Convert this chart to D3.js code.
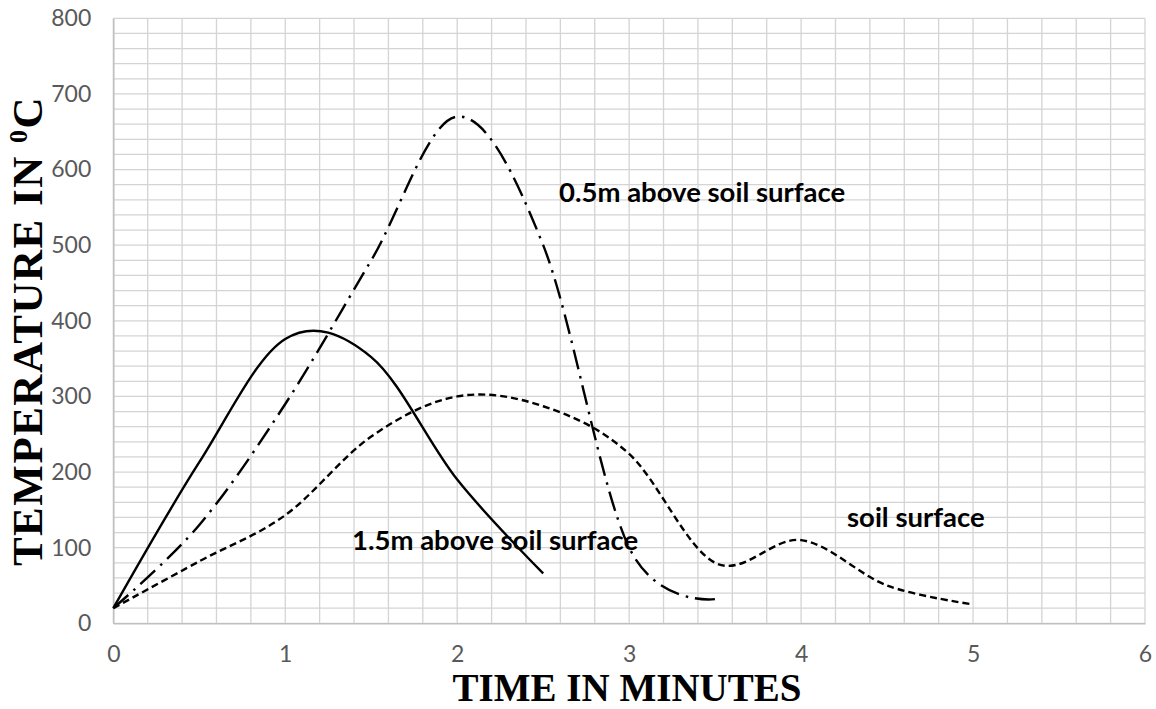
<!DOCTYPE html>
<html>
<head>
<meta charset="utf-8">
<script src="https://cdn.jsdelivr.net/npm/d3@7"></script>
<style>
  body { margin: 0; background: #fff; }
  svg { display: block; }
</style>
</head>
<body>
<svg id="chart" width="1156" height="709"></svg>
<script>
// Axis ticks
const xTickValues = [0, 1, 2, 3, 4, 5, 6];
const yTickValues = [0, 100, 200, 300, 400, 500, 600, 700, 800];

// Time (minutes) for each series
const soilTime = [0, 0.5, 1, 1.5, 2, 2.5, 3, 3.5, 4, 4.5, 5];
const above05Time = [0, 0.5, 1, 1.5, 2, 2.5, 3, 3.5];
const above15Time = [0, 0.5, 1, 1.5, 2, 2.5];

// Temperature (°C)
const soilSurfaceTemp = [20, 82, 143, 247, 300, 287, 224, 80, 110, 50, 25];
const above05Temp = [20, 130, 290, 480, 670, 500, 100, 32];
const above15Temp = [20, 213, 376, 352, 190, 66];

// Series labels
const seriesLabels = ["soil surface", "0.5m above soil surface", "1.5m above soil surface"];

const svg = d3.select("#chart");
const plotLeft = 113.3, plotRight = 1145, plotTop = 18.3, plotBottom = 623.3;

const x = d3.scaleLinear().domain([0, 6]).range([plotLeft, plotRight]);
const y = d3.scaleLinear().domain([0, 800]).range([plotBottom, plotTop]);

// Minor grid: every 0.2 min and every 20 °C
const gridX = d3.range(0, 31).map(i => i * 0.2);
const gridY = d3.range(0, 41).map(i => i * 20);

const grid = svg.append("g").attr("stroke", "#d4d4d4").attr("stroke-width", 1.3);
grid.selectAll("line.gx").data(gridX).join("line")
  .attr("class", "gx")
  .attr("x1", d => x(d)).attr("x2", d => x(d))
  .attr("y1", plotTop).attr("y2", plotBottom);
grid.selectAll("line.gy").data(gridY).join("line")
  .attr("class", "gy")
  .attr("x1", plotLeft).attr("x2", plotRight)
  .attr("y1", d => y(d)).attr("y2", d => y(d));

// Axes
const yAxis = d3.axisLeft(y).tickValues(yTickValues).tickSize(0).tickPadding(22);
const xAxis = d3.axisBottom(x).tickValues(xTickValues).tickFormat(d3.format("d"))
  .tickSize(0).tickPadding(22);

const gy = svg.append("g").attr("transform", `translate(${plotLeft},0)`).call(yAxis);
const gx = svg.append("g").attr("transform", `translate(0,${plotBottom})`).call(xAxis);
[gx, gy].forEach(g => {
  g.select(".domain").attr("stroke", "#bfbfbf").attr("stroke-width", 1.5);
  g.selectAll("text")
    .attr("fill", "#595959")
    .style("font-family", "Lato, 'Open Sans', sans-serif")
    .style("font-size", "23px");
});

// Curves
const lineGen = d3.line()
  .x(d => x(d[0]))
  .y(d => y(d[1]))
  .curve(d3.curveCardinal.tension(0));

const series = [
  { t: soilTime, v: soilSurfaceTemp, dash: "7,4" },
  { t: above05Time, v: above05Temp, dash: "20,7,2.5,7" },
  { t: above15Time, v: above15Temp, dash: null }
];

svg.append("g").selectAll("path").data(series).join("path")
  .attr("d", s => lineGen(s.t.map((t, i) => [t, s.v[i]])))
  .attr("fill", "none")
  .attr("stroke", "#000")
  .attr("stroke-width", 2.4)
  .attr("stroke-dasharray", s => s.dash)
  .attr("stroke-linejoin", "round");

// In-plot series labels
const labelPos = [
  { text: seriesLabels[0], x: 847, y: 527 },
  { text: seriesLabels[1], x: 559, y: 202 },
  { text: seriesLabels[2], x: 352, y: 550 }
];
svg.append("g").selectAll("text").data(labelPos).join("text")
  .attr("x", d => d.x).attr("y", d => d.y)
  .attr("fill", "#000")
  .style("font-family", "Lato, 'Open Sans', sans-serif")
  .style("font-weight", "bold")
  .style("font-size", "27.5px")
  .text(d => d.text);

// Axis titles
svg.append("text")
  .attr("x", 627).attr("y", 701)
  .attr("text-anchor", "middle")
  .style("font-family", "'Liberation Serif', 'Times New Roman', serif")
  .style("font-weight", "bold")
  .style("font-size", "39px")
  .attr("fill", "#000")
  .text("TIME IN MINUTES");

const yTitle = svg.append("text")
  .attr("transform", "translate(42,331) rotate(-90)")
  .attr("text-anchor", "middle")
  .style("font-family", "'Liberation Serif', 'Times New Roman', serif")
  .style("font-weight", "bold")
  .style("font-size", "43px")
  .style("letter-spacing", "1.5px")
  .attr("fill", "#000");
yTitle.append("tspan").text("TEMPERATURE IN ");
yTitle.append("tspan").attr("dy", -15).style("font-size", "26px").text("0");
yTitle.append("tspan").attr("dy", 15).text("C");
</script>
</body>
</html>
